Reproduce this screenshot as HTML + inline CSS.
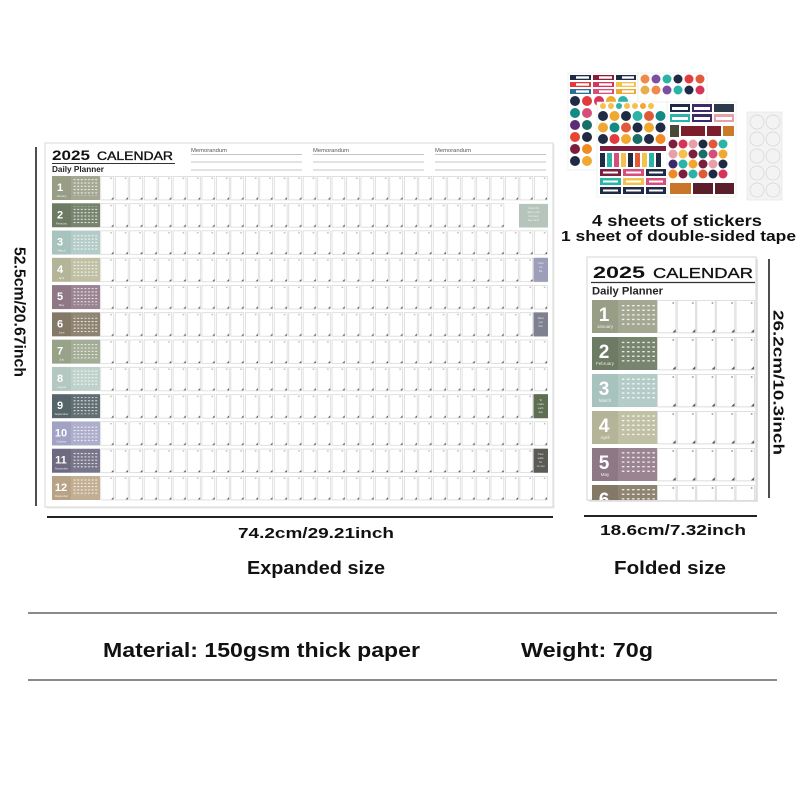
<!DOCTYPE html>
<html><head><meta charset="utf-8"><style>
html,body{margin:0;padding:0;background:#fff;width:800px;height:800px;overflow:hidden}
svg{display:block}
text{font-family:"Liberation Sans",Arial,sans-serif}
</style></head><body>
<svg width="800" height="800" viewBox="0 0 800 800" xmlns="http://www.w3.org/2000/svg">
<defs>
  <pattern id="bigcell" patternUnits="userSpaceOnUse" x="100" y="176" width="14.4516" height="27.2727">
    <rect x="0.8" y="0.3" width="12.9" height="23.6" fill="#fff" stroke="#cdcdcd" stroke-width="0.6"/>
    <rect x="10.3" y="1.6" width="1.6" height="1.3" fill="#b9b9b9"/>
    <path d="M11.2 23.4 L13.4 21.2 L13.4 23.4 Z" fill="#555"/>
  </pattern>
  <pattern id="smallcell" patternUnits="userSpaceOnUse" x="657" y="300" width="19.6" height="37">
    <rect x="0.6" y="0.3" width="18.4" height="32.6" fill="#fff" stroke="#cfcfcf" stroke-width="0.7"/>
    <rect x="15.5" y="2" width="1.5" height="2" fill="#aaa"/>
    <path d="M15.5 32.4 L18.6 29.3 L18.6 32.4 Z" fill="#555"/>
  </pattern>
  <pattern id="dots" patternUnits="userSpaceOnUse" x="73" y="0" width="3.6" height="3.3">
    <rect x="0.6" y="1" width="2" height="1" fill="#fff" fill-opacity="0.85"/>
  </pattern>
  <pattern id="dots2" patternUnits="userSpaceOnUse" x="621" y="0" width="5.1" height="4.6">
    <rect x="0.8" y="1.4" width="2.6" height="1.3" fill="#fff" fill-opacity="0.85"/>
  </pattern>
  <clipPath id="foldclip"><rect x="587" y="257" width="170" height="243"/></clipPath>
</defs>

<!-- ============ BIG CALENDAR ============ -->
<rect x="46.5" y="144.5" width="508" height="364" fill="#e9e9e9"/>
<rect x="45" y="143" width="508" height="364" fill="#fff" stroke="#d9d9d9" stroke-width="1"/>

<text x="52" y="160" font-size="14" font-weight="bold" fill="#111" textLength="38" lengthAdjust="spacingAndGlyphs">2025</text>
<text x="97" y="160" font-size="12" fill="#111" stroke="#111" stroke-width="0.35" textLength="76" lengthAdjust="spacingAndGlyphs">CALENDAR</text>
<line x1="52" y1="163.5" x2="175" y2="163.5" stroke="#333" stroke-width="1"/>
<text x="52" y="171.8" font-size="8" font-weight="bold" fill="#222" textLength="52" lengthAdjust="spacingAndGlyphs">Daily Planner</text>

<g font-size="5.5" fill="#555">
  <text x="191" y="152" textLength="36" lengthAdjust="spacingAndGlyphs">Memorandum</text>
  <text x="313" y="152" textLength="36" lengthAdjust="spacingAndGlyphs">Memorandum</text>
  <text x="435" y="152" textLength="36" lengthAdjust="spacingAndGlyphs">Memorandum</text>
</g>
<g stroke="#b0b0b0" stroke-width="0.7">
  <line x1="191" y1="154.5" x2="302" y2="154.5"/><line x1="191" y1="162" x2="302" y2="162"/><line x1="191" y1="170" x2="302" y2="170"/>
  <line x1="313" y1="154.5" x2="424" y2="154.5"/><line x1="313" y1="162" x2="424" y2="162"/><line x1="313" y1="170" x2="424" y2="170"/>
  <line x1="435" y1="154.5" x2="546" y2="154.5"/><line x1="435" y1="162" x2="546" y2="162"/><line x1="435" y1="170" x2="546" y2="170"/>
</g>

<!-- day cells -->
<rect x="100" y="176" width="448" height="327" fill="url(#bigcell)"/>
<rect x="46" y="500.5" width="506" height="6" fill="#fff"/>

<!-- month blocks (label + mini cal) -->
<g>
  <rect x="52" y="176" width="19" height="24" fill="#989d86"/><rect x="71" y="176" width="29" height="24" fill="#a4a892"/>
  <rect x="52" y="203.27" width="19" height="24" fill="#6d7a64"/><rect x="71" y="203.27" width="29" height="24" fill="#77846e"/>
  <rect x="52" y="230.55" width="19" height="24" fill="#a8c2bd"/><rect x="71" y="230.55" width="29" height="24" fill="#b4ccc7"/>
  <rect x="52" y="257.82" width="19" height="24" fill="#b4b598"/><rect x="71" y="257.82" width="29" height="24" fill="#bfc0a4"/>
  <rect x="52" y="285.09" width="19" height="24" fill="#8f7886"/><rect x="71" y="285.09" width="29" height="24" fill="#9a8491"/>
  <rect x="52" y="312.36" width="19" height="24" fill="#847866"/><rect x="71" y="312.36" width="29" height="24" fill="#8f8372"/>
  <rect x="52" y="339.64" width="19" height="24" fill="#98a288"/><rect x="71" y="339.64" width="29" height="24" fill="#a3ac94"/>
  <rect x="52" y="366.91" width="19" height="24" fill="#b3c8c1"/><rect x="71" y="366.91" width="29" height="24" fill="#bed1cb"/>
  <rect x="52" y="394.18" width="19" height="24" fill="#55656a"/><rect x="71" y="394.18" width="29" height="24" fill="#616f74"/>
  <rect x="52" y="421.45" width="19" height="24" fill="#a2a2c4"/><rect x="71" y="421.45" width="29" height="24" fill="#adadcc"/>
  <rect x="52" y="448.73" width="19" height="24" fill="#6e6a80"/><rect x="71" y="448.73" width="29" height="24" fill="#79758a"/>
  <rect x="52" y="476" width="19" height="24" fill="#b8a387"/><rect x="71" y="476" width="29" height="24" fill="#c2ae93"/>
</g>
<!-- mini calendar dots -->
<g>
  <rect x="73" y="179" width="25" height="17" fill="url(#dots)"/>
  <rect x="73" y="206.3" width="25" height="17" fill="url(#dots)"/>
  <rect x="73" y="233.5" width="25" height="17" fill="url(#dots)"/>
  <rect x="73" y="260.8" width="25" height="17" fill="url(#dots)"/>
  <rect x="73" y="288.1" width="25" height="17" fill="url(#dots)"/>
  <rect x="73" y="315.4" width="25" height="17" fill="url(#dots)"/>
  <rect x="73" y="342.6" width="25" height="17" fill="url(#dots)"/>
  <rect x="73" y="369.9" width="25" height="17" fill="url(#dots)"/>
  <rect x="73" y="397.2" width="25" height="17" fill="url(#dots)"/>
  <rect x="73" y="424.5" width="25" height="17" fill="url(#dots)"/>
  <rect x="73" y="451.7" width="25" height="17" fill="url(#dots)"/>
  <rect x="73" y="479" width="25" height="17" fill="url(#dots)"/>
</g>
<g fill="#fff" font-weight="bold" font-size="11" text-anchor="middle">
  <text x="60" y="191">1</text>
  <text x="60" y="218.3">2</text>
  <text x="60" y="245.5">3</text>
  <text x="60" y="272.8">4</text>
  <text x="60" y="300.1">5</text>
  <text x="60" y="327.4">6</text>
  <text x="60" y="354.6">7</text>
  <text x="60" y="381.9">8</text>
  <text x="60" y="409.2">9</text>
  <text x="61" y="436.5">10</text>
  <text x="61" y="463.7">11</text>
  <text x="61" y="491">12</text>
</g>
<g fill="#fff" fill-opacity="0.85" font-size="2.8" text-anchor="middle">
  <text x="61.5" y="197">January</text>
  <text x="61.5" y="224.3">February</text>
  <text x="61.5" y="251.5">March</text>
  <text x="61.5" y="278.8">April</text>
  <text x="61.5" y="306.1">May</text>
  <text x="61.5" y="333.4">June</text>
  <text x="61.5" y="360.6">July</text>
  <text x="61.5" y="387.9">August</text>
  <text x="61.5" y="415.2">September</text>
  <text x="61.5" y="442.5">October</text>
  <text x="61.5" y="469.7">November</text>
  <text x="61.5" y="497">December</text>
</g>
<!-- note boxes -->
<rect x="505" y="203.3" width="43.5" height="24.5" fill="#fff"/>
<rect x="519" y="204" width="29" height="23.5" fill="#b5c5bb"/>
<rect x="533.5" y="257.8" width="14.5" height="24" fill="#9d9fba"/>
<rect x="533.5" y="312.4" width="14.5" height="24" fill="#7f8190"/>
<rect x="533.5" y="394.2" width="14.5" height="24" fill="#5f6e52"/>
<rect x="533.5" y="448.7" width="14.5" height="24" fill="#5c5a55"/>
<g fill="#fff" fill-opacity="0.8" font-size="2.6" text-anchor="middle">
  <text x="533.5" y="209">Cross the</text><text x="533.5" y="213">days in the</text><text x="533.5" y="217">list every</text><text x="533.5" y="221">day count</text>
  <text x="540.7" y="264">I love</text><text x="540.7" y="268">my</text><text x="540.7" y="272">life</text>
  <text x="540.7" y="319">Meet</text><text x="540.7" y="323">you</text><text x="540.7" y="327">this</text>
  <text x="540.7" y="401">To</text><text x="540.7" y="405">make</text><text x="540.7" y="409">each</text><text x="540.7" y="413">day</text>
  <text x="540.7" y="455">Time</text><text x="540.7" y="459">waits</text><text x="540.7" y="463">for</text><text x="540.7" y="467">no one</text>
</g>

<!-- left dimension -->
<line x1="36" y1="147" x2="36" y2="506" stroke="#222" stroke-width="1.6"/>
<text transform="translate(14.5,247) rotate(90)" x="0" y="0" font-size="16" font-weight="bold" fill="#111" textLength="130" lengthAdjust="spacingAndGlyphs">52.5cm/20.67inch</text>
<!-- bottom dimension big -->
<line x1="47" y1="517" x2="553" y2="517" stroke="#222" stroke-width="2"/>
<text x="238" y="538" font-size="15" font-weight="bold" fill="#111" textLength="156" lengthAdjust="spacingAndGlyphs">74.2cm/29.21inch</text>
<text x="247" y="574" font-size="18" font-weight="bold" fill="#111" textLength="138" lengthAdjust="spacingAndGlyphs">Expanded size</text>

<!-- ============ FOLDED CALENDAR ============ -->
<rect x="589" y="259" width="169" height="243" fill="#e4e4e4"/>
<rect x="587" y="257" width="169" height="243" fill="#fff" stroke="#d6d6d6" stroke-width="1"/>
<text x="593" y="278" font-size="17" font-weight="bold" fill="#111" textLength="52" lengthAdjust="spacingAndGlyphs">2025</text>
<text x="653" y="278" font-size="15" fill="#111" stroke="#111" stroke-width="0.3" textLength="100" lengthAdjust="spacingAndGlyphs">CALENDAR</text>
<line x1="591" y1="282.5" x2="755" y2="282.5" stroke="#333" stroke-width="1.2"/>
<text x="592" y="294.5" font-size="11" font-weight="bold" fill="#222" textLength="71" lengthAdjust="spacingAndGlyphs">Daily Planner</text>
<g clip-path="url(#foldclip)">
  <rect x="657" y="300" width="98" height="222" fill="url(#smallcell)"/>
  <rect x="592" y="300" width="26" height="33" fill="#989d86"/><rect x="618" y="300" width="39" height="33" fill="#a4a892"/>
  <rect x="592" y="337" width="26" height="33" fill="#6d7a64"/><rect x="618" y="337" width="39" height="33" fill="#77846e"/>
  <rect x="592" y="374" width="26" height="33" fill="#a8c2bd"/><rect x="618" y="374" width="39" height="33" fill="#b4ccc7"/>
  <rect x="592" y="411" width="26" height="33" fill="#b4b598"/><rect x="618" y="411" width="39" height="33" fill="#bfc0a4"/>
  <rect x="592" y="448" width="26" height="33" fill="#8f7886"/><rect x="618" y="448" width="39" height="33" fill="#9a8491"/>
  <rect x="592" y="485" width="26" height="33" fill="#847866"/><rect x="618" y="485" width="39" height="33" fill="#8f8372"/>
  <rect x="620" y="303" width="35" height="24" fill="url(#dots2)"/>
  <rect x="620" y="340" width="35" height="24" fill="url(#dots2)"/>
  <rect x="620" y="377" width="35" height="24" fill="url(#dots2)"/>
  <rect x="620" y="414" width="35" height="24" fill="url(#dots2)"/>
  <rect x="620" y="451" width="35" height="24" fill="url(#dots2)"/>
  <rect x="620" y="488" width="35" height="24" fill="url(#dots2)"/>
  <g fill="#fff" font-weight="bold" font-size="19" text-anchor="middle">
    <text x="604" y="321">1</text><text x="604" y="358">2</text><text x="604" y="395">3</text>
    <text x="604" y="432">4</text><text x="604" y="469">5</text><text x="604" y="506">6</text>
  </g>
  <g fill="#fff" fill-opacity="0.85" font-size="4.5" text-anchor="middle">
    <text x="605" y="328">January</text><text x="605" y="365">February</text><text x="605" y="402">March</text>
    <text x="605" y="439">April</text><text x="605" y="476">May</text>
  </g>
</g>
<!-- right dimension -->
<line x1="769" y1="259" x2="769" y2="498" stroke="#222" stroke-width="1.6"/>
<text transform="translate(773.5,310) rotate(90)" x="0" y="0" font-size="15" font-weight="bold" fill="#111" textLength="145" lengthAdjust="spacingAndGlyphs">26.2cm/10.3inch</text>
<!-- bottom dimension folded -->
<line x1="584" y1="516" x2="757" y2="516" stroke="#222" stroke-width="2"/>
<text x="600" y="535" font-size="15" font-weight="bold" fill="#111" textLength="146" lengthAdjust="spacingAndGlyphs">18.6cm/7.32inch</text>
<text x="614" y="574" font-size="18" font-weight="bold" fill="#111" textLength="112" lengthAdjust="spacingAndGlyphs">Folded size</text>

<!-- ============ STICKERS ============ -->
<!-- sheet 1 -->
<rect x="568" y="73" width="70" height="97" fill="#fff" stroke="#e6e6e6" stroke-width="0.6"/>
<g>
  <rect x="570" y="75" width="21" height="5" fill="#1f2a44"/><rect x="593" y="75" width="21" height="5" fill="#8b1e3f"/><rect x="616" y="75" width="20" height="5" fill="#1f2a44"/>
  <rect x="570" y="82" width="21" height="5" fill="#e23b3b"/><rect x="593" y="82" width="21" height="5" fill="#d7345a"/><rect x="616" y="82" width="20" height="5" fill="#f2c14e"/>
  <rect x="570" y="89" width="21" height="5" fill="#2a6f97"/><rect x="593" y="89" width="21" height="5" fill="#d64f7a"/><rect x="616" y="89" width="20" height="5" fill="#f0a830"/>
  <g fill="#fff"><rect x="576" y="76.3" width="13" height="2.4"/><rect x="599" y="76.3" width="13" height="2.4"/><rect x="622" y="76.3" width="12" height="2.4"/>
  <rect x="576" y="83.3" width="13" height="2.4"/><rect x="599" y="83.3" width="13" height="2.4"/><rect x="622" y="83.3" width="12" height="2.4"/>
  <rect x="576" y="90.3" width="13" height="2.4"/><rect x="599" y="90.3" width="13" height="2.4"/><rect x="622" y="90.3" width="12" height="2.4"/></g>
  <circle cx="575" cy="101" r="5" fill="#1f2a44"/><circle cx="587" cy="101" r="5" fill="#e23b3b"/><circle cx="599" cy="101" r="5" fill="#d7345a"/><circle cx="611" cy="101" r="5" fill="#f0a830"/><circle cx="623" cy="101" r="5" fill="#2bb3a8"/>
  <circle cx="575" cy="113" r="5" fill="#138a85"/><circle cx="587" cy="113" r="5" fill="#d64f7a"/>
  <circle cx="575" cy="125" r="5" fill="#5a2d7a"/><circle cx="587" cy="125" r="5" fill="#1a6e6a"/>
  <circle cx="575" cy="137" r="5" fill="#e6452f"/><circle cx="587" cy="137" r="5" fill="#1f2a44"/>
  <circle cx="575" cy="149" r="5" fill="#7a1f3d"/><circle cx="587" cy="149" r="5" fill="#f08a24"/>
  <circle cx="575" cy="161" r="5" fill="#1f2a44"/><circle cx="587" cy="161" r="5" fill="#f0a830"/>
</g>
<!-- sheet 2 -->
<rect x="638" y="73" width="69" height="30" fill="#fff" stroke="#e6e6e6" stroke-width="0.6"/>
<g>
  <circle cx="645" cy="79" r="4.5" fill="#f08a4b"/><circle cx="656" cy="79" r="4.5" fill="#7b4fa0"/><circle cx="667" cy="79" r="4.5" fill="#2bb3a8"/><circle cx="678" cy="79" r="4.5" fill="#1f2a44"/><circle cx="689" cy="79" r="4.5" fill="#e23b3b"/><circle cx="700" cy="79" r="4.5" fill="#e05a3a"/>
  <circle cx="645" cy="90" r="4.5" fill="#e8b04a"/><circle cx="656" cy="90" r="4.5" fill="#f08a4b"/><circle cx="667" cy="90" r="4.5" fill="#7b4fa0"/><circle cx="678" cy="90" r="4.5" fill="#2bb3a8"/><circle cx="689" cy="90" r="4.5" fill="#1f2a44"/><circle cx="700" cy="90" r="4.5" fill="#d7345a"/>
</g>
<!-- sheet 3 -->
<rect x="597" y="102" width="71" height="95" fill="#fff" stroke="#e6e6e6" stroke-width="0.6"/>
<g>
  <circle cx="603" cy="106" r="3" fill="#f2c14e"/><circle cx="611" cy="106" r="3" fill="#f2c14e"/><circle cx="619" cy="106" r="3" fill="#2bb3a8"/><circle cx="627" cy="106" r="3" fill="#f2c14e"/><circle cx="635" cy="106" r="3" fill="#f2c14e"/><circle cx="643" cy="106" r="3" fill="#f0a830"/><circle cx="651" cy="106" r="3" fill="#f2c14e"/>
  <circle cx="603" cy="116" r="5" fill="#1f2a44"/><circle cx="614.5" cy="116" r="5" fill="#f0a830"/><circle cx="626" cy="116" r="5" fill="#1f2a44"/><circle cx="637.5" cy="116" r="5" fill="#2bb3a8"/><circle cx="649" cy="116" r="5" fill="#e05a3a"/><circle cx="660.5" cy="116" r="5" fill="#138a85"/>
  <circle cx="603" cy="127.5" r="5" fill="#f0a830"/><circle cx="614.5" cy="127.5" r="5" fill="#138a85"/><circle cx="626" cy="127.5" r="5" fill="#e05a3a"/><circle cx="637.5" cy="127.5" r="5" fill="#1f2a44"/><circle cx="649" cy="127.5" r="5" fill="#f0a830"/><circle cx="660.5" cy="127.5" r="5" fill="#1f2a44"/>
  <circle cx="603" cy="139" r="5" fill="#1f2a44"/><circle cx="614.5" cy="139" r="5" fill="#e23b3b"/><circle cx="626" cy="139" r="5" fill="#f0a830"/><circle cx="637.5" cy="139" r="5" fill="#1a6e6a"/><circle cx="649" cy="139" r="5" fill="#1f2a44"/><circle cx="660.5" cy="139" r="5" fill="#f08a24"/>
  <rect x="600" y="146" width="66" height="5" fill="#7a1f3d"/>
  <rect x="600" y="153" width="5" height="14" fill="#1f2a44"/><rect x="607" y="153" width="5" height="14" fill="#2bb3a8"/><rect x="614" y="153" width="5" height="14" fill="#d64f7a"/><rect x="621" y="153" width="5" height="14" fill="#f2c14e"/><rect x="628" y="153" width="5" height="14" fill="#1f2a44"/><rect x="635" y="153" width="5" height="14" fill="#e05a3a"/><rect x="642" y="153" width="5" height="14" fill="#f2c14e"/><rect x="649" y="153" width="5" height="14" fill="#2bb3a8"/><rect x="656" y="153" width="5" height="14" fill="#1f2a44"/>
  <rect x="600" y="169" width="21" height="7" fill="#7a1f3d"/><rect x="623" y="169" width="21" height="7" fill="#d64f7a"/><rect x="646" y="169" width="20" height="7" fill="#1f2a44"/>
  <rect x="600" y="178" width="21" height="7" fill="#2bb3a8"/><rect x="623" y="178" width="21" height="7" fill="#f2c14e"/><rect x="646" y="178" width="20" height="7" fill="#d64f7a"/>
  <rect x="600" y="187" width="21" height="7" fill="#1f2a44"/><rect x="623" y="187" width="21" height="7" fill="#1f2a44"/><rect x="646" y="187" width="20" height="7" fill="#1f2a44"/>
  <g fill="#fff"><rect x="603" y="171.5" width="15" height="2"/><rect x="626" y="171.5" width="15" height="2"/><rect x="649" y="171.5" width="14" height="2"/>
  <rect x="603" y="180.5" width="15" height="2"/><rect x="626" y="180.5" width="15" height="2"/><rect x="649" y="180.5" width="14" height="2"/>
  <rect x="603" y="189.5" width="15" height="2"/><rect x="626" y="189.5" width="15" height="2"/><rect x="649" y="189.5" width="14" height="2"/></g>
</g>
<!-- sheet 4 -->
<rect x="667" y="102" width="69" height="95" fill="#fff" stroke="#e6e6e6" stroke-width="0.6"/>
<g>
  <rect x="670" y="104" width="20" height="8" fill="#1f2a44"/><rect x="692" y="104" width="20" height="8" fill="#3d2a6b"/><rect x="714" y="104" width="20" height="8" fill="#2d3a4a"/>
  <rect x="670" y="114" width="20" height="8" fill="#2bb3a8"/><rect x="692" y="114" width="20" height="8" fill="#3d2a6b"/><rect x="714" y="114" width="20" height="8" fill="#e7a0a8"/>
  <g fill="#fff"><rect x="672" y="107" width="16" height="3"/><rect x="694" y="107" width="16" height="3"/><rect x="672" y="117" width="16" height="3"/><rect x="694" y="117" width="16" height="3"/><rect x="716" y="117" width="16" height="3"/></g>
  <rect x="670" y="125" width="9" height="12" fill="#4a4a3a"/><rect x="681" y="126" width="24" height="10" fill="#7a1f2b"/><rect x="707" y="126" width="14" height="10" fill="#7a1f2b"/><rect x="723" y="126" width="11" height="10" fill="#c97a2a"/>
  <circle cx="673" cy="144" r="4.5" fill="#7a1f3d"/><circle cx="683" cy="144" r="4.5" fill="#d7345a"/><circle cx="693" cy="144" r="4.5" fill="#e7a0a8"/><circle cx="703" cy="144" r="4.5" fill="#1f2a44"/><circle cx="713" cy="144" r="4.5" fill="#e05a3a"/><circle cx="723" cy="144" r="4.5" fill="#2bb3a8"/>
  <circle cx="673" cy="154" r="4.5" fill="#e7a0a8"/><circle cx="683" cy="154" r="4.5" fill="#f2c14e"/><circle cx="693" cy="154" r="4.5" fill="#7a1f3d"/><circle cx="703" cy="154" r="4.5" fill="#1a6e6a"/><circle cx="713" cy="154" r="4.5" fill="#d64f7a"/><circle cx="723" cy="154" r="4.5" fill="#f0a830"/>
  <circle cx="673" cy="164" r="4.5" fill="#3d2a6b"/><circle cx="683" cy="164" r="4.5" fill="#2bb3a8"/><circle cx="693" cy="164" r="4.5" fill="#f0a830"/><circle cx="703" cy="164" r="4.5" fill="#7a1f3d"/><circle cx="713" cy="164" r="4.5" fill="#e7a0a8"/><circle cx="723" cy="164" r="4.5" fill="#1f2a44"/>
  <circle cx="673" cy="174" r="4.5" fill="#f08a24"/><circle cx="683" cy="174" r="4.5" fill="#7a1f3d"/><circle cx="693" cy="174" r="4.5" fill="#2bb3a8"/><circle cx="703" cy="174" r="4.5" fill="#e05a3a"/><circle cx="713" cy="174" r="4.5" fill="#1f2a44"/><circle cx="723" cy="174" r="4.5" fill="#d7345a"/>
  <rect x="670" y="183" width="21" height="11" fill="#c9752a"/><rect x="693" y="183" width="20" height="11" fill="#5a1f2b"/><rect x="715" y="183" width="19" height="11" fill="#5a1f2b"/>
</g>
<!-- tape sheet -->
<rect x="747" y="112" width="35" height="88" fill="#f3f3f3" stroke="#e2e2e2" stroke-width="0.6"/>
<g fill="none" stroke="#d6d6d6" stroke-width="0.7">
  <circle cx="757" cy="122" r="7"/><circle cx="773" cy="122" r="7"/>
  <circle cx="757" cy="139" r="7"/><circle cx="773" cy="139" r="7"/>
  <circle cx="757" cy="156" r="7"/><circle cx="773" cy="156" r="7"/>
  <circle cx="757" cy="173" r="7"/><circle cx="773" cy="173" r="7"/>
  <circle cx="757" cy="190" r="7"/><circle cx="773" cy="190" r="7"/>
</g>
<text x="592" y="226" font-size="16" font-weight="bold" fill="#111" textLength="170" lengthAdjust="spacingAndGlyphs">4 sheets of stickers</text>
<text x="561" y="241" font-size="15" font-weight="bold" fill="#111" textLength="235" lengthAdjust="spacingAndGlyphs">1 sheet of double-sided tape</text>

<!-- ============ BOTTOM INFO ============ -->
<line x1="28" y1="613" x2="777" y2="613" stroke="#8a8a8a" stroke-width="2"/>
<text x="103" y="657" font-size="20" font-weight="bold" fill="#111" textLength="317" lengthAdjust="spacingAndGlyphs">Material: 150gsm thick paper</text>
<text x="521" y="657" font-size="20" font-weight="bold" fill="#111" textLength="132" lengthAdjust="spacingAndGlyphs">Weight: 70g</text>
<line x1="28" y1="680" x2="777" y2="680" stroke="#8a8a8a" stroke-width="2"/>
</svg>
</body></html>
